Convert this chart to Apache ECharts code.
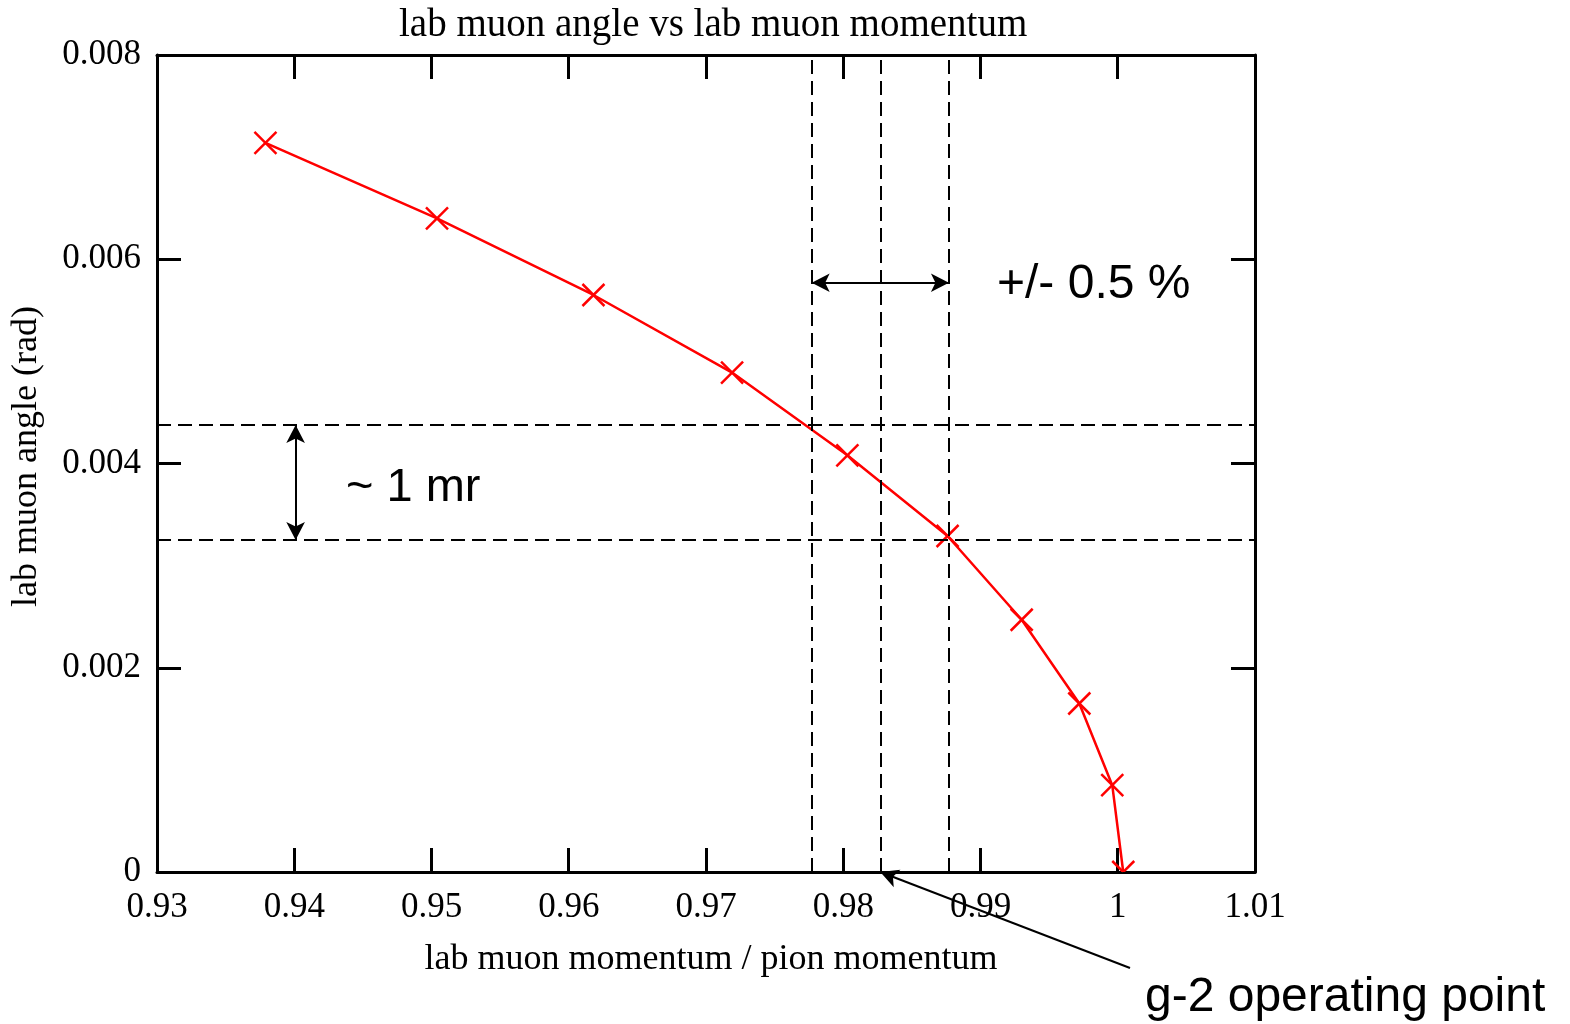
<!DOCTYPE html>
<html>
<head>
<meta charset="utf-8">
<script src="https://cdn.jsdelivr.net/npm/echarts@6/dist/echarts.min.js"></script>
<style>
  html, body { margin: 0; padding: 0; background: #fff; }
  #chart { width: 1570px; height: 1024px; }
</style>
</head>
<body>
<div id="chart"></div>
<script>
'use strict';

// measured points: lab muon momentum / pion momentum vs lab muon angle (rad)
const momentumRatio = [0.9379, 0.9504, 0.9618, 0.9719, 0.9803, 0.9876, 0.9930, 0.9972, 0.9996, 1.0004];
const labAngle = [0.00714, 0.00640, 0.00565, 0.00489, 0.00408, 0.00329, 0.00247, 0.00165, 0.00085, 0.0];

// +/- 0.5 % window around the g-2 operating point, and the matching angle band
const windowEdges = [0.9777, 0.9827, 0.9877];
const angleBand = [0.004377, 0.003251];
const operatingPoint = 0.9827;

// where the two double arrows sit
const widthArrowAngle = 0.00577;
const heightArrowMomentum = 0.9401;

const xRange = [0.93, 1.01, 0.01];
const yRange = [0, 0.008, 0.002];

let points = momentumRatio.map(function (x, i) { return [x, labAngle[i]]; });

const serif = 'Liberation Serif';

let xBase = {
    type: 'value',
    min: xRange[0],
    max: xRange[1],
    interval: xRange[2],
    axisLine: { onZero: false, lineStyle: { color: '#000', width: 3 } },
    axisTick: { inside: true, length: 24, lineStyle: { color: '#000', width: 3 } },
    splitLine: { show: false }
};
let yBase = {
    type: 'value',
    min: yRange[0],
    max: yRange[1],
    interval: yRange[2],
    axisLine: { onZero: false, lineStyle: { color: '#000', width: 3 } },
    axisTick: { inside: true, length: 24, lineStyle: { color: '#000', width: 3 } },
    splitLine: { show: false }
};

let dash = { color: '#000', width: 2, opacity: 1, type: [14, 7] };

// guide lines built from the window edges and the angle band
let guideLines = windowEdges.map(function (v) {
    return [{ coord: [v, yRange[0]] }, { coord: [v, yRange[1]] }];
}).concat(angleBand.map(function (v) {
    return [{ coord: [xRange[0], v] }, { coord: [xRange[1], v] }];
}));

let myChart = echarts.init(document.getElementById('chart'));
let option = {
    animation: false,
    backgroundColor: '#fff',
    title: {
        text: 'lab muon angle vs lab muon momentum',
        left: 394,
        top: 1,
        textStyle: { fontFamily: serif, fontWeight: 'normal', fontSize: 39, color: '#000' }
    },
    grid: { left: 157, top: 55, right: 315, bottom: 152 },
    xAxis: [
        Object.assign({}, xBase, {
            position: 'bottom',
            name: 'lab muon momentum / pion momentum',
            nameLocation: 'middle',
            nameGap: 70,
            nameTextStyle: { fontFamily: serif, fontSize: 36, color: '#000', padding: [0, 0, 0, 10] },
            axisLabel: { fontFamily: serif, fontSize: 35, color: '#000', margin: 18 }
        }),
        Object.assign({}, xBase, { position: 'top', axisLabel: { show: false } })
    ],
    yAxis: [
        Object.assign({}, yBase, {
            position: 'left',
            name: 'lab muon angle (rad)',
            nameLocation: 'middle',
            nameGap: 112,
            nameTextStyle: { fontFamily: serif, fontSize: 36, color: '#000', padding: [0, 0, 0, 14] },
            axisLabel: { fontFamily: serif, fontSize: 35, color: '#000', margin: 16 }
        }),
        Object.assign({}, yBase, { position: 'right', axisLabel: { show: false } })
    ],
    series: [
        {
            // connecting line
            type: 'line',
            data: points,
            symbol: 'none',
            lineStyle: { color: '#ff0000', width: 2.5 },
            z: 3
        },
        {
            // cross markers, clipped by the frame
            type: 'custom',
            data: points,
            clip: true,
            z: 4,
            renderItem: function (params, api) {
                let p = api.coord([api.value(0), api.value(1)]);
                let s = 11;
                let st = { stroke: '#ff0000', lineWidth: 2.5 };
                return {
                    type: 'group',
                    children: [
                        { type: 'line', shape: { x1: p[0] - s, y1: p[1] - s, x2: p[0] + s, y2: p[1] + s }, style: st },
                        { type: 'line', shape: { x1: p[0] - s, y1: p[1] + s, x2: p[0] + s, y2: p[1] - s }, style: st }
                    ]
                };
            }
        },
        {
            // dashed guide lines
            type: 'line',
            data: [],
            clip: false,
            markLine: {
                silent: true,
                symbol: 'none',
                label: { show: false },
                lineStyle: dash,
                data: guideLines
            }
        },
        {
            // double arrows and the operating point pointer
            type: 'line',
            data: [],
            clip: false,
            markLine: {
                silent: true,
                symbol: ['arrow', 'arrow'],
                symbolSize: [14, 18],
                label: { show: false },
                lineStyle: { color: '#000', width: 2, opacity: 1, type: 'solid' },
                data: [
                    [{ coord: [windowEdges[0], widthArrowAngle] }, { coord: [windowEdges[2], widthArrowAngle] }],
                    [{ coord: [heightArrowMomentum, angleBand[0]] }, { coord: [heightArrowMomentum, angleBand[1]] }],
                    [{ x: 1130, y: 968, symbol: 'none' }, { coord: [operatingPoint, 0], symbol: 'arrow' }]
                ]
            }
        }
    ],
    graphic: [
        {
            type: 'text', x: 997, y: 285,
            style: { text: '+/- 0.5 %', font: '48px "Liberation Sans"', fill: '#000', textVerticalAlign: 'middle' }
        },
        {
            type: 'text', x: 346, y: 488,
            style: { text: '~ 1 mr', font: '47px "Liberation Sans"', fill: '#000', textVerticalAlign: 'middle' }
        },
        {
            type: 'text', x: 1145, y: 998,
            style: { text: 'g-2 operating point', font: '48px "Liberation Sans"', fill: '#000', textVerticalAlign: 'middle' }
        }
    ]
};
myChart.setOption(option);
</script>
</body>
</html>
